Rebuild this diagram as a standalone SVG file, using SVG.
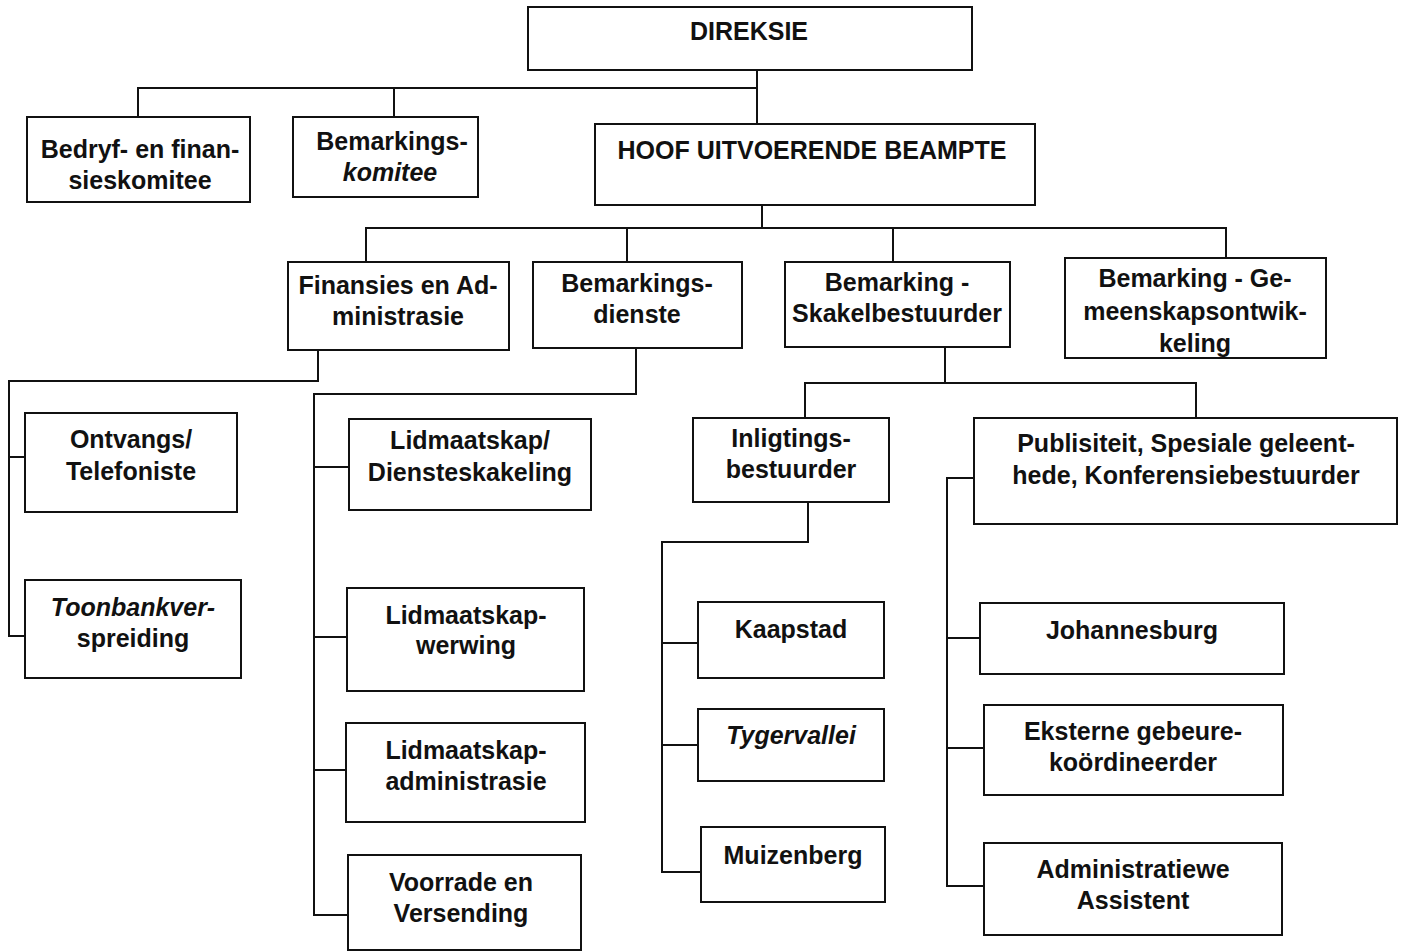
<svg xmlns="http://www.w3.org/2000/svg" width="1404" height="952" viewBox="0 0 1404 952">
  <style>
    .box { fill: #ffffff; stroke: #111111; stroke-width: 2; }
    .wire { fill: none; stroke: #111111; stroke-width: 2; stroke-linecap: square; }
    text { font-family: "Liberation Sans", Arial, sans-serif; font-weight: bold; font-size: 25px; fill: #111111; text-anchor: middle; }
    .it { font-style: italic; }
  </style>
  <rect width="1404" height="952" fill="#ffffff"/>

  <!-- connectors -->
  <g id="connectors" class="wire">
    <!-- Direksie to committees and CEO -->
    <path d="M757,70 V124 M138,88 H757 M138,88 V117 M394,88 V117"/>
    <!-- CEO to departments -->
    <path d="M762,205 V228 M366,228 H1226 M366,228 V262 M627,228 V262 M893,228 V262 M1226,228 V258"/>
    <!-- Finansies en Administrasie -->
    <path d="M318,350 V381 H9 V636 H25 M9,457 H25"/>
    <!-- Bemarkingsdienste -->
    <path d="M636,348 V394 H314 V915 H348 M314,467 H349 M314,637 H347 M314,770 H346"/>
    <!-- Skakelbestuurder -->
    <path d="M945,347 V383 M805,383 H1196 M805,383 V418 M1196,383 V418"/>
    <!-- Inligtingsbestuurder -->
    <path d="M808,502 V542 H662 V872 H701 M662,643 H698 M662,745 H698"/>
    <!-- Publisiteit -->
    <path d="M974,478 H947 V886 H984 M947,638 H980 M947,748 H984"/>
  </g>

  <g id="direksie">
    <rect class="box" x="528" y="7" width="444" height="63"/>
    <text x="749" y="40">DIREKSIE</text>
  </g>

  <g id="bedryf-finansieskomitee">
    <rect class="box" x="27" y="117" width="223" height="85"/>
    <text x="140" y="158">Bedryf- en finan-</text>
    <text x="140" y="189">sieskomitee</text>
  </g>

  <g id="bemarkingskomitee">
    <rect class="box" x="293" y="117" width="185" height="80"/>
    <text x="392" y="150">Bemarkings-</text>
    <text x="390" y="181" class="it">komitee</text>
  </g>

  <g id="hoof-uitvoerende-beampte">
    <rect class="box" x="595" y="124" width="440" height="81"/>
    <text x="812" y="159">HOOF UITVOERENDE BEAMPTE</text>
  </g>

  <g id="finansies-administrasie">
    <rect class="box" x="288" y="262" width="221" height="88"/>
    <text x="398" y="294">Finansies en Ad-</text>
    <text x="398" y="325">ministrasie</text>
  </g>

  <g id="bemarkingsdienste">
    <rect class="box" x="533" y="262" width="209" height="86"/>
    <text x="637" y="292">Bemarkings-</text>
    <text x="637" y="323">dienste</text>
  </g>

  <g id="skakelbestuurder">
    <rect class="box" x="785" y="262" width="225" height="85"/>
    <text x="897" y="291">Bemarking -</text>
    <text x="897" y="322">Skakelbestuurder</text>
  </g>

  <g id="gemeenskapsontwikkeling">
    <rect class="box" x="1065" y="258" width="261" height="100"/>
    <text x="1195" y="287">Bemarking - Ge-</text>
    <text x="1195" y="320">meenskapsontwik-</text>
    <text x="1195" y="352">keling</text>
  </g>

  <g id="ontvangs-telefoniste">
    <rect class="box" x="25" y="413" width="212" height="99"/>
    <text x="131" y="448">Ontvangs/</text>
    <text x="131" y="480">Telefoniste</text>
  </g>

  <g id="toonbankverspreiding">
    <rect class="box" x="25" y="580" width="216" height="98"/>
    <text x="133" y="616" class="it">Toonbankver-</text>
    <text x="133" y="647">spreiding</text>
  </g>

  <g id="diensteskakeling">
    <rect class="box" x="349" y="419" width="242" height="91"/>
    <text x="470" y="449">Lidmaatskap/</text>
    <text x="470" y="481">Diensteskakeling</text>
  </g>

  <g id="lidmaatskapwerwing">
    <rect class="box" x="347" y="588" width="237" height="103"/>
    <text x="466" y="624">Lidmaatskap-</text>
    <text x="466" y="654">werwing</text>
  </g>

  <g id="lidmaatskapadministrasie">
    <rect class="box" x="346" y="723" width="239" height="99"/>
    <text x="466" y="759">Lidmaatskap-</text>
    <text x="466" y="790">administrasie</text>
  </g>

  <g id="voorrade-versending">
    <rect class="box" x="348" y="855" width="233" height="95"/>
    <text x="461" y="891">Voorrade en</text>
    <text x="461" y="922">Versending</text>
  </g>

  <g id="inligtingsbestuurder">
    <rect class="box" x="693" y="418" width="196" height="84"/>
    <text x="791" y="447">Inligtings-</text>
    <text x="791" y="478">bestuurder</text>
  </g>

  <g id="publisiteit">
    <rect class="box" x="974" y="418" width="423" height="106"/>
    <text x="1186" y="452">Publisiteit, Spesiale geleent-</text>
    <text x="1186" y="484">hede, Konferensiebestuurder</text>
  </g>

  <g id="kaapstad">
    <rect class="box" x="698" y="602" width="186" height="76"/>
    <text x="791" y="638">Kaapstad</text>
  </g>

  <g id="tygervallei">
    <rect class="box" x="698" y="709" width="186" height="72"/>
    <text x="791" y="744" class="it">Tygervallei</text>
  </g>

  <g id="muizenberg">
    <rect class="box" x="701" y="827" width="184" height="75"/>
    <text x="793" y="864">Muizenberg</text>
  </g>

  <g id="johannesburg">
    <rect class="box" x="980" y="603" width="304" height="71"/>
    <text x="1132" y="639">Johannesburg</text>
  </g>

  <g id="eksterne-koordineerder">
    <rect class="box" x="984" y="705" width="299" height="90"/>
    <text x="1133" y="740">Eksterne gebeure-</text>
    <text x="1133" y="771">koördineerder</text>
  </g>

  <g id="administratiewe-assistent">
    <rect class="box" x="984" y="843" width="298" height="92"/>
    <text x="1133" y="878">Administratiewe</text>
    <text x="1133" y="909">Assistent</text>
  </g>
</svg>
